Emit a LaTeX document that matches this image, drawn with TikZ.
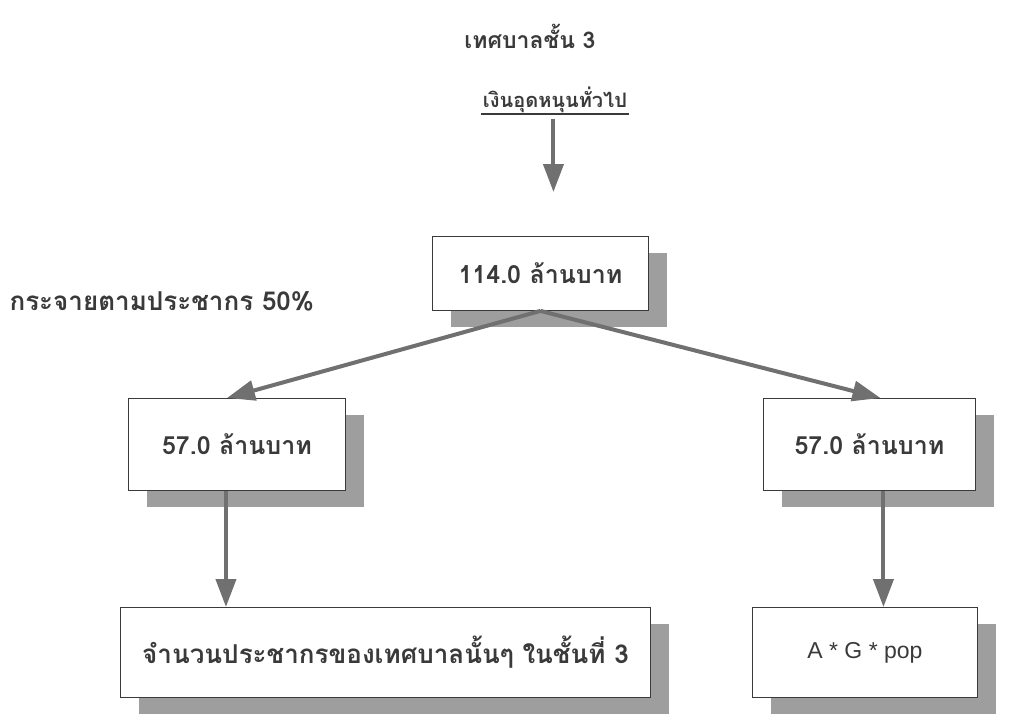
\documentclass[tikz,border=0pt]{standalone}
\usepackage{fontspec}
\setmainfont[Script=Thai]{Loma}
\newfontfamily\latinfont{Liberation Sans}
\usetikzlibrary{arrows.meta,shadows}
\definecolor{txt}{HTML}{3A3A3A}
\definecolor{arrc}{HTML}{707070}
\definecolor{shd}{HTML}{9E9E9E}
\begin{document}
\begin{tikzpicture}[x=1pt,y=-1pt,
  every node/.style={text=txt, font=\bfseries\fontsize{25}{29}\selectfont},
  box/.style={draw=txt, line width=0.9pt, fill=white, anchor=north west, inner sep=0pt,
    drop shadow={shadow xshift=19pt, shadow yshift=-17pt, opacity=1, fill=shd}},
  arr/.style={draw=arrc, line width=4pt, -{Triangle[width=20pt,length=28pt]}}]
\path[use as bounding box] (0,0) rectangle (1026,718);
\node[font=\bfseries\fontsize{23}{27}\selectfont] (title) at (530,36) {เทศบาลชั้น 3};
\node[font=\bfseries\fontsize{20}{24}\selectfont, inner sep=2pt] (sub) at (555,100) {เงินอุดหนุนทั่วไป};
\draw[txt, line width=1.4pt] ([yshift=1pt]sub.south west) -- ([yshift=1pt]sub.south east);
\node[box, minimum width=216pt, minimum height=74pt] (top) at (432,236) {114.0 ล้านบาท};
\node[anchor=west, font=\bfseries\fontsize{26}{30}\selectfont] (lbl) at (6,301) {กระจายตามประชากร 50\%};
\node[box, minimum width=217pt, minimum height=92pt] (lm) at (128,398) {57.0 ล้านบาท};
\node[box, minimum width=212pt, minimum height=92pt] (rm) at (763,398) {57.0 ล้านบาท};
\node[box, minimum width=530pt, minimum height=90pt, font=\bfseries\fontsize{26}{30}\selectfont] (lb) at (120,607) {จำนวนประชากรของเทศบาลนั้นๆ ในชั้นที่ 3};
\node[box, minimum width=225pt, minimum height=90pt, font=\latinfont\fontsize{23}{27}\selectfont] (rb) at (752,607) {A * G * pop};
\draw[arr, shorten <=4pt, shorten >=44pt] ([xshift=13pt]sub.south -| top.north) -- ([xshift=13pt]top.north);
\draw[arr] (top.south) -- ([xshift=-10pt]lm.north);
\draw[arr] (top.south) -- ([xshift=11pt]rm.north);
\draw[arr] ([xshift=-11pt]lm.south) -- ([xshift=-11pt]lm.south |- lb.north);
\draw[arr] ([xshift=14pt]rm.south) -- ([xshift=14pt]rm.south |- rb.north);
\end{tikzpicture}
\end{document}
